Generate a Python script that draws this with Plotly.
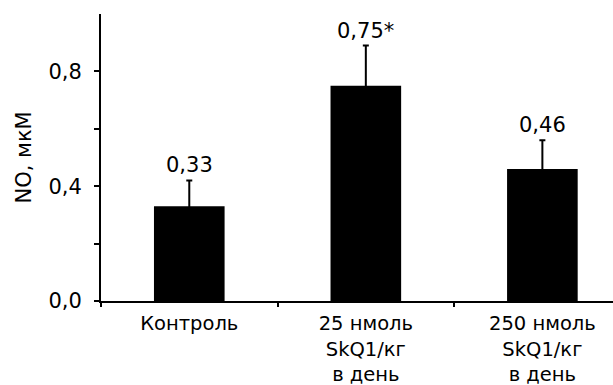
import plotly.graph_objects as go

categories = ["Контроль", "25 нмоль<br>SkQ1/кг<br>в день", "250 нмоль<br>SkQ1/кг<br>в день"]
values = [0.33, 0.75, 0.46]
errors = [0.09, 0.14, 0.10]
value_labels = ["0,33", "0,75*", "0,46"]
ytick_vals = [0.0, 0.2, 0.4, 0.6, 0.8]
ytick_text = ["0,0", "", "0,4", "", "0,8"]

FONT = "DejaVu Sans"
fs = 21

fig = go.Figure()
fig.add_trace(go.Bar(
    x=categories, y=values, width=0.4,
    marker=dict(color="black", line=dict(width=0)),
    error_y=dict(type="data", symmetric=False, array=errors,
                 arrayminus=[0.02] * len(errors), color="black",
                 thickness=2, width=3),
))

for c, v, e, t in zip(categories, values, errors, value_labels):
    fig.add_annotation(x=c, y=v + e, text=t, showarrow=False,
                       xanchor="center", yanchor="bottom", yshift=1,
                       font=dict(family=FONT, size=fs, color="black"))

fig.add_annotation(xref="paper", yref="paper", x=0, y=0.5, xshift=-78,
                   text="NO, мкМ", textangle=-90, showarrow=False,
                   xanchor="center", yanchor="middle",
                   font=dict(family=FONT, size=fs, color="black"))

fig.update_layout(
    width=613, height=385,
    margin=dict(l=101, r=0, t=14, b=84),
    plot_bgcolor="white", paper_bgcolor="white",
    showlegend=False,
    font=dict(family=FONT, size=fs, color="black"),
    bargap=0.6,
)
fig.update_xaxes(
    type="category", range=[-0.5, 2.4], automargin=False,
    showline=True, linecolor="black", linewidth=2,
    ticks="outside", tickson="boundaries", ticklen=4, tickwidth=2,
    tickcolor="black", showgrid=False, zeroline=False,
    ticklabelstandoff=4,
    tickfont=dict(family=FONT, size=19.5, color="black"),
)
fig.update_yaxes(
    range=[0, 1.0], tickvals=ytick_vals, ticktext=ytick_text,
    automargin=False,
    showline=True, linecolor="black", linewidth=2,
    ticks="outside", ticklen=5, tickwidth=2, tickcolor="black",
    showgrid=False, zeroline=False, ticklabelstandoff=8,
    tickfont=dict(family=FONT, size=fs, color="black"),
)

fig.write_html("out.html")
